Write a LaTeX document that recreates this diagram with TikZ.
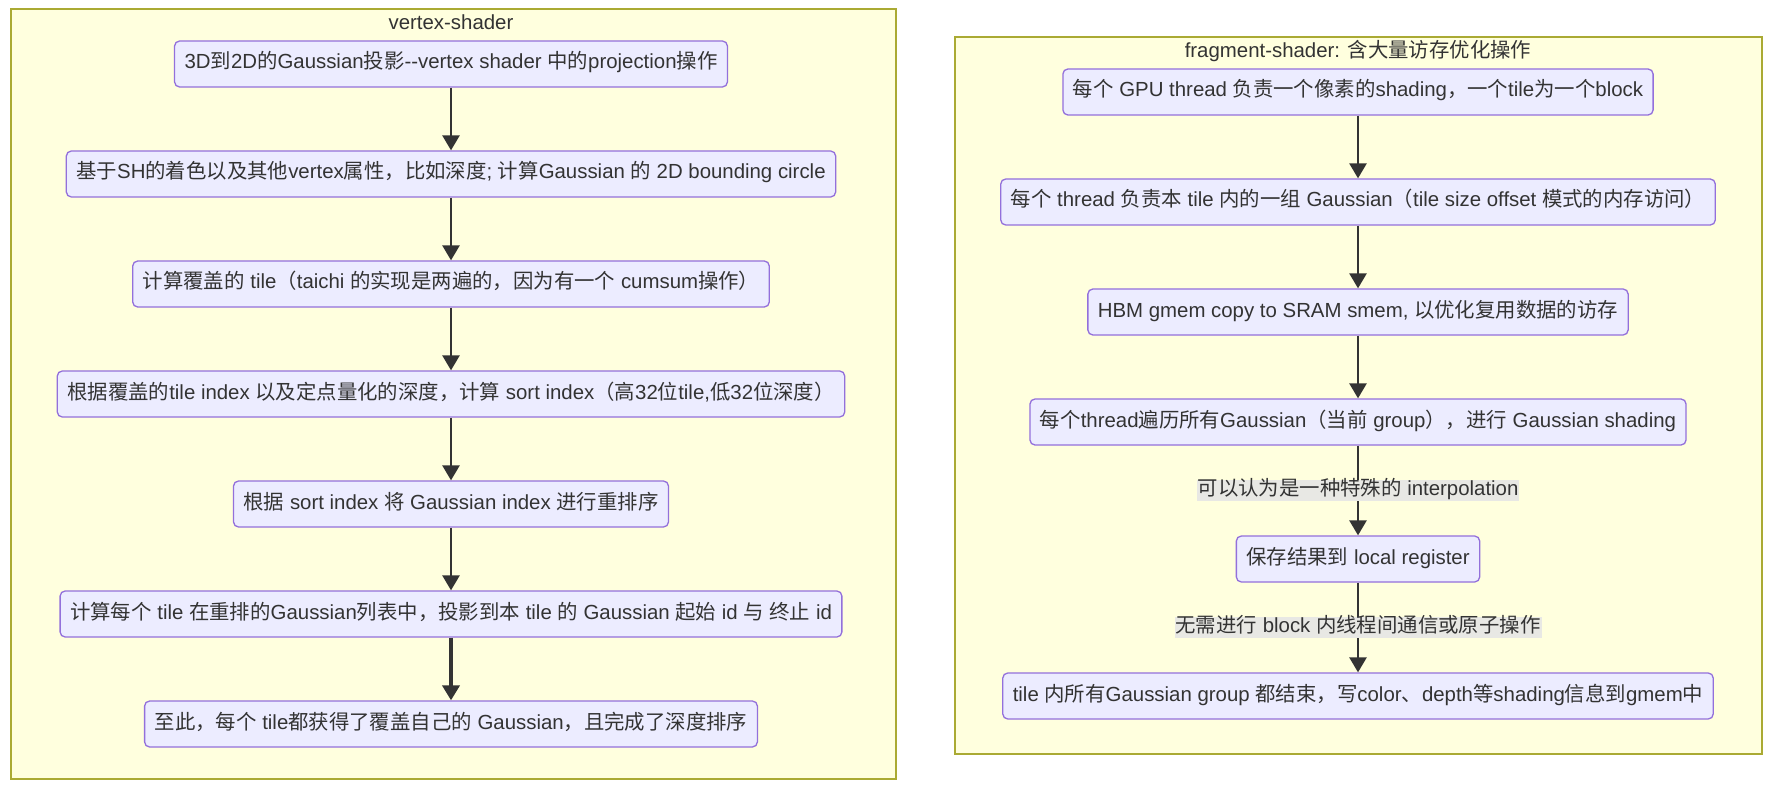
\documentclass[tikz,border=0pt]{standalone}
\usepackage{fontspec}
\setmainfont{Liberation Sans}
\newfontfamily\latinfont{Liberation Sans}
\newfontfamily\cjkfont{Noto Sans CJK SC}
\usetikzlibrary{arrows.meta}

\definecolor{clusterfill}{HTML}{FFFFDE}
\definecolor{clusterline}{HTML}{AAAA33}
\definecolor{nodefill}{HTML}{ECECFF}
\definecolor{nodeline}{HTML}{9370DB}
\definecolor{textcol}{HTML}{333333}
\definecolor{labelfill}{HTML}{E8E8E4}

% Latin / CJK font switch
\XeTeXinterchartokenstate=1
\newXeTeXintercharclass\cjkclass
\newcount\cjkcode
\def\setcjkrange#1#2{\cjkcode=#1\relax
  \loop\XeTeXcharclass\cjkcode=\cjkclass\relax
  \ifnum\cjkcode<#2\relax\advance\cjkcode by 1\relax\repeat}
\setcjkrange{"3000}{"303F}
\setcjkrange{"4E00}{"9FFF}
\setcjkrange{"FF00}{"FFEF}
\XeTeXinterchartoks 0 \cjkclass = {\cjkfont}
\XeTeXinterchartoks 4095 \cjkclass = {\cjkfont}
\XeTeXinterchartoks \cjkclass 0 = {\latinfont}
\XeTeXinterchartoks \cjkclass 4095 = {\latinfont}

\begin{document}
\begin{tikzpicture}[x=1pt,y=1pt,yscale=-1,
  every node/.style={text=textcol,font=\fontsize{20.4}{24}\selectfont,text height=15pt,text depth=5pt},
  stepbox/.style={draw=nodeline,fill=nodefill,line width=1.3pt,rounded corners=5pt,minimum height=46pt,inner xsep=10pt,inner ysep=0pt},
  flow/.style={draw=textcol,line width=2.6pt,-{Triangle[length=15pt,width=17pt]}},
  boldflow/.style={flow,line width=4.5pt},
  edgelabel/.style={fill=labelfill,inner xsep=1pt,inner ysep=0.5pt},
  cluster/.style={draw=clusterline,fill=clusterfill,line width=1.2pt}]
\useasboundingbox (0,0) rectangle (1769,786);

%Shape: Rectangle [vertex-shader]
\draw[cluster] (11,9) rectangle (896,779);
%Shape: Rectangle [fragment-shader]
\draw[cluster] (955,37) rectangle (1762,754);

% Text Node
\node (vtitle) at (451,25) {vertex-shader};
% Text Node
\node (ftitle) at (1358,53) {fragment-shader: 含大量访存优化操作};

% vertex-shader steps
\node[stepbox] (v1) at (451,64) {3D到2D的Gaussian投影-{}-vertex shader 中的projection操作};
\node[stepbox] (v2) at (451,174) {基于SH的着色以及其他vertex属性，比如深度; 计算Gaussian 的 2D bounding circle};
\node[stepbox] (v3) at (451,284) {计算覆盖的 tile（taichi 的实现是两遍的，因为有一个 cumsum操作）};
\node[stepbox] (v4) at (451,394) {根据覆盖的tile index 以及定点量化的深度，计算 sort index（高32位tile,低32位深度）};
\node[stepbox] (v5) at (451,504) {根据 sort index 将 Gaussian index 进行重排序};
\node[stepbox] (v6) at (451,614) {计算每个 tile 在重排的Gaussian列表中，投影到本 tile 的 Gaussian 起始 id 与 终止 id};
\node[stepbox] (v7) at (451,724) {至此，每个 tile都获得了覆盖自己的 Gaussian，且完成了深度排序};

% fragment-shader steps
\node[stepbox] (f1) at (1358,92) {每个 GPU thread 负责一个像素的shading，一个tile为一个block};
\node[stepbox] (f2) at (1358,202) {每个 thread 负责本 tile 内的一组 Gaussian（tile size offset 模式的内存访问）};
\node[stepbox] (f3) at (1358,312) {HBM gmem copy to SRAM smem, 以优化复用数据的访存};
\node[stepbox] (f4) at (1358,422) {每个thread遍历所有Gaussian（当前 group），进行 Gaussian shading};
\node[stepbox] (f5) at (1358,559) {保存结果到 local register};
\node[stepbox] (f6) at (1358,696) {tile 内所有Gaussian group 都结束，写color、depth等shading信息到gmem中};

% connectors
\foreach \a/\b in {v1/v2,v2/v3,v3/v4,v4/v5,v5/v6,f1/f2,f2/f3,f3/f4}
  \draw[flow] (\a) -- (\b);
\draw[boldflow] (v6) -- (v7);
\draw[flow] (f4) -- node[edgelabel] (l1) {可以认为是一种特殊的 interpolation} (f5);
\draw[flow] (f5) -- node[edgelabel] (l2) {无需进行 block 内线程间通信或原子操作} (f6);

\end{tikzpicture}
\end{document}
